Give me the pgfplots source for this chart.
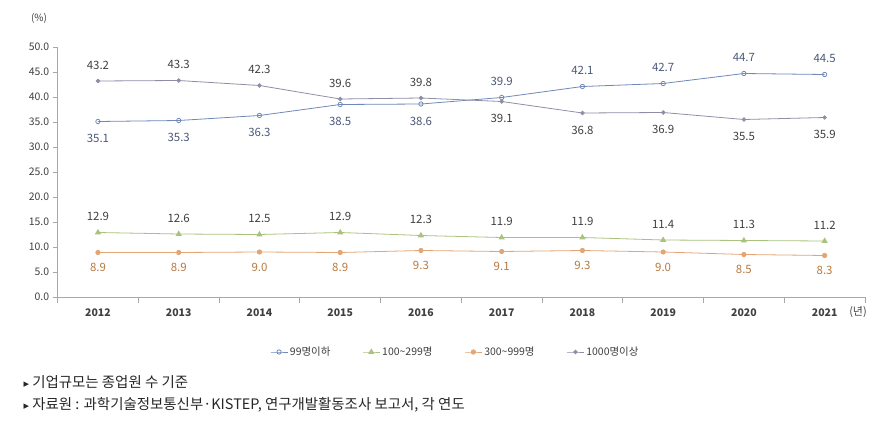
\documentclass[border=0pt]{standalone}
\usepackage{fontspec}
\setmainfont{Noto Sans CJK KR}
\newfontfamily\dejavu{DejaVu Sans}
\usepackage{pgfplots}
\pgfplotsset{compat=1.18}
\definecolor{cBlue}{HTML}{6F88B8}
\definecolor{cGreen}{HTML}{A9C27E}
\definecolor{cOrange}{HTML}{E3A574}
\definecolor{cGray}{HTML}{8E8EA6}
\definecolor{cLab}{HTML}{404040}
\definecolor{cBLab}{HTML}{4A5878}
\definecolor{cOLab}{HTML}{B8783E}
\definecolor{cAxis}{HTML}{A8A8A8}
\begin{document}
\begin{tikzpicture}
\useasboundingbox (0,0) rectangle (892bp,428bp);
\begin{axis}[
  at={(57.6bp,131bp)}, anchor=south west,
  scale only axis, width=807.4bp, height=250bp,
  xmin=-0.5, xmax=9.5, ymin=0, ymax=50,
  axis x line=bottom, axis y line=left,
  axis line style={-, cAxis, line width=0.8pt},
  xtick={0,...,9},
  xticklabels={2012,2013,2014,2015,2016,2017,2018,2019,2020,2021},
  major x tick style={draw=none},
  minor xtick={-0.5,0.5,...,9.5},
  minor x tick style={cAxis, line width=0.8pt},
  minor tick length=6bp,
  tick align=outside,
  ytick={0,5,...,50},
  major y tick style={cAxis, line width=0.8pt},
  major tick length=5bp,
  yticklabel style={/pgf/number format/.cd, fixed, fixed zerofill, precision=1, /tikz/.cd, font=\fontsize{10.5}{12}\selectfont, text=cLab},
  xticklabel style={font=\fontsize{10.5}{12}\selectfont\bfseries, text=cLab, yshift=-3bp},
  /pgf/number format/assume math mode=true,
  clip=false,
  legend style={at={(axis description cs:0.5,0)}, anchor=center, xshift=-6bp, yshift=-55bp, draw=none, font=\fontsize{10.5}{12}\selectfont, text=cLab, legend columns=4, /tikz/every even column/.append style={column sep=30bp}},
  every node near coord/.append style={font=\fontsize{11.5}{13}\selectfont, text=cLab},
]
\addplot[cBlue, line width=0.8pt, mark=o, mark size=2.2pt, mark options={fill=white, line width=0.8pt}] coordinates {(0,35.1)(1,35.3)(2,36.3)(3,38.5)(4,38.6)(5,39.9)(6,42.1)(7,42.7)(8,44.7)(9,44.5)};
\addlegendentry{99명이하}
\addplot[cGreen, line width=0.8pt, mark=triangle*, mark size=2.8pt] coordinates {(0,12.9)(1,12.6)(2,12.5)(3,12.9)(4,12.3)(5,11.9)(6,11.9)(7,11.4)(8,11.3)(9,11.2)};
\addlegendentry{100\textasciitilde 299명}
\addplot[cOrange, line width=0.8pt, mark=*, mark size=2.2pt] coordinates {(0,8.9)(1,8.9)(2,9.0)(3,8.9)(4,9.3)(5,9.1)(6,9.3)(7,9.0)(8,8.5)(9,8.3)};
\addlegendentry{300\textasciitilde 999명}
\addplot[cGray, line width=0.8pt, mark=*, mark size=1.8pt] coordinates {(0,43.2)(1,43.3)(2,42.3)(3,39.6)(4,39.8)(5,39.1)(6,36.8)(7,36.9)(8,35.5)(9,35.9)};
\addlegendentry{1000명이상}
% labels
\pgfplotsset{lbl/.style={draw=none, mark=none, forget plot, nodes near coords, point meta=explicit symbolic}}
\addplot[lbl, every node near coord/.append style={anchor=center, yshift=-17bp, text=cBLab}] coordinates {(0,35.1)[35.1](1,35.3)[35.3](2,36.3)[36.3](3,38.5)[38.5](4,38.6)[38.6]};
\addplot[lbl, every node near coord/.append style={anchor=center, yshift=16bp, text=cBLab}] coordinates {(5,39.9)[39.9](6,42.1)[42.1](7,42.7)[42.7](8,44.7)[44.7](9,44.5)[44.5]};
\addplot[lbl, every node near coord/.append style={anchor=center, yshift=16bp}] coordinates {(0,43.2)[43.2](1,43.3)[43.3](2,42.3)[42.3](3,39.6)[39.6](4,39.8)[39.8]};
\addplot[lbl, every node near coord/.append style={anchor=center, yshift=-17bp}] coordinates {(5,39.1)[39.1](6,36.8)[36.8](7,36.9)[36.9](8,35.5)[35.5](9,35.9)[35.9]};
\addplot[lbl, every node near coord/.append style={anchor=center, yshift=16bp}] coordinates {(0,12.9)[12.9](1,12.6)[12.6](2,12.5)[12.5](3,12.9)[12.9](4,12.3)[12.3](5,11.9)[11.9](6,11.9)[11.9](7,11.4)[11.4](8,11.3)[11.3](9,11.2)[11.2]};
\addplot[lbl, every node near coord/.append style={anchor=center, yshift=-15bp, text=cOLab}] coordinates {(0,8.9)[8.9](1,8.9)[8.9](2,9.0)[9.0](3,8.9)[8.9](4,9.3)[9.3](5,9.1)[9.1](6,9.3)[9.3](7,9.0)[9.0](8,8.5)[8.5](9,8.3)[8.3]};
\end{axis}
\node[font=\fontsize{10}{12}\selectfont, text=cLab] at (39bp,410bp) {(\%)};
\node[font=\fontsize{11}{13}\selectfont, text=cLab] at (858bp,116bp) {(년)};
\node[anchor=west, font=\fontsize{14.5}{16}\selectfont, text=black!85] at (20bp,46bp) {{\dejavu\fontsize{11}{13}\selectfont ▸}\ 기업규모는 종업원 수 기준};
\node[anchor=west, font=\fontsize{14.5}{16}\selectfont, text=black!85] at (20bp,23bp) {{\dejavu\fontsize{11}{13}\selectfont ▸}\ 자료원 : 과학기술정보통신부·KISTEP, 연구개발활동조사 보고서, 각 연도};
\end{tikzpicture}
\end{document}
